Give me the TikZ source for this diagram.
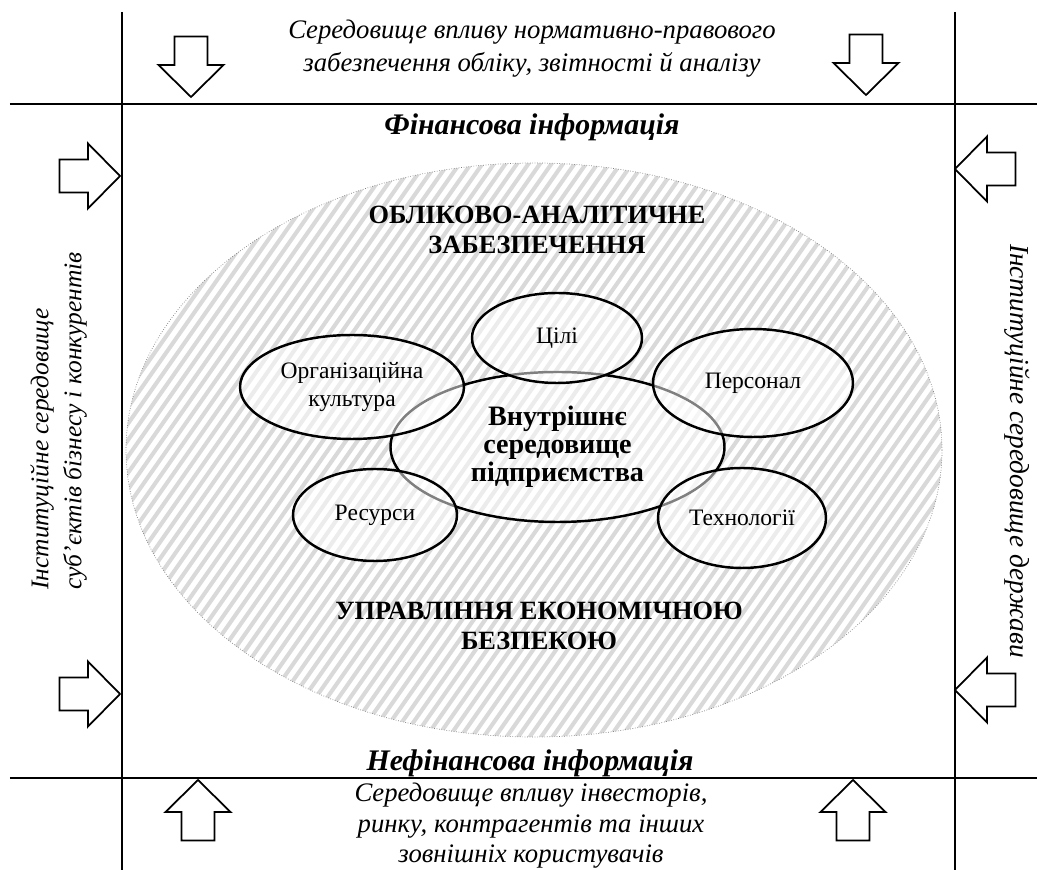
\documentclass[tikz,border=0pt]{standalone}
\usepackage{fontspec}
\setmainfont{Liberation Serif}
\usetikzlibrary{shapes.geometric}

\tikzset{
  divline/.style={line width=1.1pt},
  partell/.style={ellipse, draw, line width=1.4pt, fill=white, fill opacity=0.5,
    text opacity=1, inner sep=0pt, align=center,
    font=\fontsize{13.4}{15.4}\selectfont},
  envtext/.style={align=center, font=\fontsize{15.2}{18.8}\selectfont\itshape},
  infotext/.style={font=\fontsize{17}{19}\selectfont\bfseries\itshape},
  zonetext/.style={align=center, font=\fontsize{15}{17}\selectfont\bfseries},
  blockarrow/.pic={
    \draw[line width=1pt, fill=white] (0,0) -- (-0.64,0.65) -- (-0.64,0.33)
      -- (-1.21,0.33) -- (-1.21,-0.33) -- (-0.64,-0.33) -- (-0.64,-0.65) -- cycle;
  }
}

\begin{document}
\begin{tikzpicture}
    \useasboundingbox (0,0) rectangle (20.74,17.4);
    % frame lines
    \draw[divline] (2.44,17.16) -- (2.44,0);
    \draw[divline] (19.10,17.16) -- (19.10,0);
    \draw[divline] (0.2,15.32) -- (20.74,15.32);
    \draw[divline] (0.2,1.84) -- (20.74,1.84);
    % hatched zone
    \begin{scope}
        \clip (10.68,8.40) ellipse (8.16cm and 5.74cm);
        \fill[white] (2,2) rectangle (19,15);
        \foreach \x in {-7.0,-6.77,...,19.2}
            \draw[black!15, line width=2.3pt] (\x,2.5) -- ++(55:16);
    \end{scope}
    \draw[gray, densely dotted, line width=0.4pt] (10.68,8.40) ellipse (8.16cm and 5.74cm);
    % block arrows
    \pic[rotate=-90] at (3.82,15.46) {blockarrow};
    \pic[rotate=-90] at (17.32,15.50) {blockarrow};
    \pic at (2.40,13.88) {blockarrow};
    \pic at (2.40,3.52) {blockarrow};
    \pic[rotate=180] at (19.10,14.02) {blockarrow};
    \pic[rotate=180] at (19.10,3.60) {blockarrow};
    \pic[rotate=90] at (3.96,1.80) {blockarrow};
    \pic[rotate=90] at (17.06,1.80) {blockarrow};
    % environment texts
    \node[envtext] (norm) at (10.64,16.43) {Середовище впливу нормативно-правового\\забезпечення обліку, звітності й аналізу};
    \node[envtext, font=\fontsize{15.2}{17.4}\selectfont\itshape] (invest) at (10.62,0.88) {Середовище впливу інвесторів,\\ринку, контрагентів та інших\\зовнішніх користувачів};
    \node[envtext, align=left, rotate=90, font=\fontsize{14.5}{18.8}\selectfont\itshape] (business) at (1.17,8.98) {Інституційне середовище\\суб’єктів бізнесу і конкурентів};
    \node[envtext, rotate=-90, font=\fontsize{15.6}{18.8}\selectfont\itshape] (state) at (20.34,8.38) {Інституційне середовище держави};
    \node[infotext] (fin) at (10.64,14.86) {Фінансова інформація};
    \node[infotext] (nonfin) at (10.60,2.14) {Нефінансова інформація};
    % zone texts
    \node[zonetext] (account) at (10.74,12.80) {ОБЛІКОВО-АНАЛІТИЧНЕ\\ЗАБЕЗПЕЧЕННЯ};
    \node[zonetext] (security) at (10.78,4.88) {УПРАВЛІННЯ ЕКОНОМІЧНОЮ\\БЕЗПЕКОЮ};
    % inner environment
    \node[partell, minimum width=6.68cm, minimum height=3.0cm,
          font=\fontsize{16}{15.8}\selectfont\bfseries] (inner) at (11.15,8.46) {Внутрішнє\\середовище\\підприємства};
    \node[partell, minimum width=4.48cm, minimum height=2.08cm] (culture) at (7.04,9.66) {Організаційна\\культура};
    \node[partell, minimum width=3.40cm, minimum height=1.80cm] (goals) at (11.14,10.64) {Цілі};
    \node[partell, minimum width=4.00cm, minimum height=2.16cm] (staff) at (15.06,9.74) {Персонал};
    \node[partell, minimum width=3.28cm, minimum height=1.84cm] (resources) at (7.50,7.10) {Ресурси};
    \node[partell, minimum width=3.36cm, minimum height=2.00cm] (tech) at (14.84,7.04) {Технології};
\end{tikzpicture}
\end{document}
